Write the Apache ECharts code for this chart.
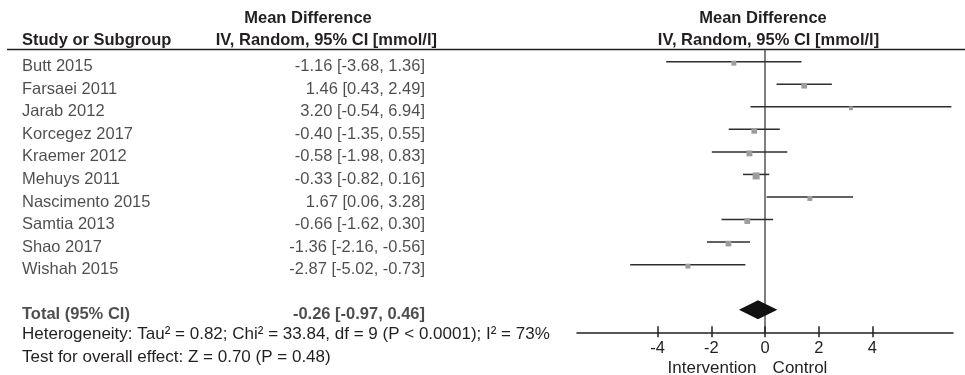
<!DOCTYPE html>
<html>
<head>
<meta charset="utf-8">
<script src="https://cdn.jsdelivr.net/npm/echarts@6/dist/echarts.min.js"></script>
<style>
  html, body { margin: 0; padding: 0; background: #fff; }
  #chart { width: 965px; height: 375px; }
</style>
</head>
<body>
<div id="chart"></div>
<script>
const studies = ['Butt 2015', 'Farsaei 2011', 'Jarab 2012', 'Korcegez 2017', 'Kraemer 2012',
  'Mehuys 2011', 'Nascimento 2015', 'Samtia 2013', 'Shao 2017', 'Wishah 2015']
const meanDiff = [-1.16, 1.46, 3.20, -0.40, -0.58, -0.33, 1.67, -0.66, -1.36, -2.87]
const ciLow = [-3.68, 0.43, -0.54, -1.35, -1.98, -0.82, 0.06, -1.62, -2.16, -5.02]
const ciHigh = [1.36, 2.49, 6.94, 0.55, 0.83, 0.16, 3.28, 0.30, -0.56, -0.73]
// weights (%) estimated from the square sizes
const weights = [8, 10.5, 5, 10.5, 11.5, 16, 8, 11, 10.5, 8]
const totalLabel = 'Total (95% CI)'
const totalMD = [-0.26, -0.97, 0.46] // estimate, low, high
const xTicks = [-4, -2, 0, 2, 4]

const FONT = '"Liberation Sans", Arial, Helvetica, sans-serif'
const FS = 16.5
const TXT = '#231f20'
const TOTAL_ROW = studies.length + 1

const fmt = (m, lo, hi) => m.toFixed(2) + ' [' + lo.toFixed(2) + ', ' + hi.toFixed(2) + ']'

const studyRows = studies.map((s, i) => [meanDiff[i], ciLow[i], ciHigh[i], weights[i], i])
const leftRows = studies.map((s, i) => [0, i])
const rightRows = studies.map((s, i) => [1, i])

const chart = echarts.init(document.getElementById('chart'))

const txt = (text, x, y, align, bold, size) => ({
  type: 'text',
  x: x,
  y: y,
  style: {
    text: text,
    fill: TXT,
    font: (bold ? 'bold ' : '') + (size || FS) + 'px ' + FONT,
    align: align,
    verticalAlign: 'middle'
  }
})

chart.setOption({
  animation: false,
  grid: [
    // forest plot area
    { left: 577, width: 376, top: 50.4, height: 281.9 },
    // text columns (slightly lower than the lines, like the original)
    { left: 22, width: 403, top: 55.4, height: 281.9 }
  ],
  xAxis: [
    {
      gridIndex: 0,
      type: 'value',
      min: -7,
      max: 7,
      position: 'bottom',
      axisLine: { onZero: false, lineStyle: { color: '#231f20', width: 1.5 } },
      axisTick: { customValues: xTicks, length: 5, lineStyle: { color: '#231f20', width: 1.5 } },
      axisLabel: { customValues: xTicks, margin: 8, color: TXT, fontSize: FS, fontFamily: FONT },
      splitLine: { show: false }
    },
    {
      // upper half of the crossing ticks
      gridIndex: 0,
      type: 'value',
      min: -7,
      max: 7,
      position: 'bottom',
      axisLine: { show: false, onZero: false },
      axisTick: { customValues: xTicks, inside: true, length: 6, lineStyle: { color: '#231f20', width: 1.5 } },
      axisLabel: { show: false },
      splitLine: { show: false }
    },
    { gridIndex: 1, type: 'value', min: 0, max: 1, show: false }
  ],
  yAxis: [
    {
      gridIndex: 0,
      type: 'value',
      min: -0.5,
      max: 12,
      inverse: true,
      axisLine: { show: true, onZero: true, lineStyle: { color: '#555', width: 1.5 } },
      axisTick: { show: false },
      axisLabel: { show: false },
      splitLine: { show: false }
    },
    { gridIndex: 1, type: 'value', min: -0.5, max: 12, inverse: true, show: false }
  ],
  series: [
    {
      name: 'studies',
      type: 'custom',
      xAxisIndex: 0,
      yAxisIndex: 0,
      data: studyRows,
      encode: { x: [0, 1, 2], y: 4 },
      renderItem(params, api) {
        const row = api.value(4)
        const a = api.coord([api.value(1), row])
        const b = api.coord([api.value(2), row])
        const c = api.coord([api.value(0), row])
        const s = 1.75 * Math.sqrt(api.value(3))
        return {
          type: 'group',
          children: [
            { type: 'line', shape: { x1: a[0], y1: a[1], x2: b[0], y2: b[1] }, style: { stroke: '#2e2e2e', lineWidth: 1.5 } },
            { type: 'rect', shape: { x: c[0] - s / 2, y: c[1] - s / 2 + 1.5, width: s, height: s }, style: { fill: '#9d9d9f' } }
          ]
        }
      }
    },
    {
      name: 'total',
      type: 'custom',
      xAxisIndex: 0,
      yAxisIndex: 0,
      data: [[totalMD[0], totalMD[1], totalMD[2], TOTAL_ROW]],
      encode: { x: [0, 1, 2], y: 3 },
      renderItem(params, api) {
        const row = api.value(3)
        const l = api.coord([api.value(1), row])
        const r = api.coord([api.value(2), row])
        const m = api.coord([api.value(0), row])
        const h = 9.6
        return {
          type: 'polygon',
          shape: { points: [[l[0], l[1]], [m[0], m[1] - h], [r[0], r[1]], [m[0], m[1] + h]] },
          style: { fill: '#111' }
        }
      }
    },
    {
      name: 'study names',
      type: 'scatter',
      xAxisIndex: 2,
      yAxisIndex: 1,
      symbolSize: 0,
      silent: true,
      data: leftRows.concat([[0, TOTAL_ROW]]),
      label: {
        show: true,
        position: 'right',
        distance: 0,
        color: TXT,
        fontSize: FS,
        fontFamily: FONT,
        formatter: (p) => (p.dataIndex < studies.length ? studies[p.dataIndex] : '{b|' + totalLabel + '}'),
        rich: { b: { fontWeight: 'bold', fontSize: FS, fontFamily: FONT, color: TXT } }
      }
    },
    {
      name: 'effect text',
      type: 'scatter',
      xAxisIndex: 2,
      yAxisIndex: 1,
      symbolSize: 0,
      silent: true,
      data: rightRows.concat([[1, TOTAL_ROW]]),
      label: {
        show: true,
        position: 'left',
        distance: 0,
        color: TXT,
        fontSize: FS,
        fontFamily: FONT,
        formatter: (p) => {
          const i = p.dataIndex
          if (i < studies.length) return fmt(meanDiff[i], ciLow[i], ciHigh[i])
          return '{b|' + fmt(totalMD[0], totalMD[1], totalMD[2]) + '}'
        },
        rich: { b: { fontWeight: 'bold', fontSize: FS, fontFamily: FONT, color: TXT } }
      }
    }
  ],
  graphic: [
    txt('Mean Difference', 308, 18, 'center', true),
    txt('Study or Subgroup', 22, 40.5, 'left', true),
    txt('IV, Random, 95% CI [mmol/l]', 437, 40.5, 'right', true),
    txt('Mean Difference', 763, 18, 'center', true),
    txt('IV, Random, 95% CI [mmol/l]', 768.5, 40.5, 'center', true),
    {
      type: 'line',
      shape: { x1: 7, y1: 49.5, x2: 965, y2: 49.5 },
      style: { stroke: '#231f20', lineWidth: 1.5 }
    },
    txt('Heterogeneity: Tau\u00b2 = 0.82; Chi\u00b2 = 33.84, df = 9 (P < 0.0001); I\u00b2 = 73%', 22, 334.5, 'left', false, 17),
    txt('Test for overall effect: Z = 0.70 (P = 0.48)', 22, 357.5, 'left', false, 17),
    txt('Intervention', 712, 368.5, 'center', false, 17),
    txt('Control', 800, 368.5, 'center', false, 17)
  ]
})
</script>
</body>
</html>
